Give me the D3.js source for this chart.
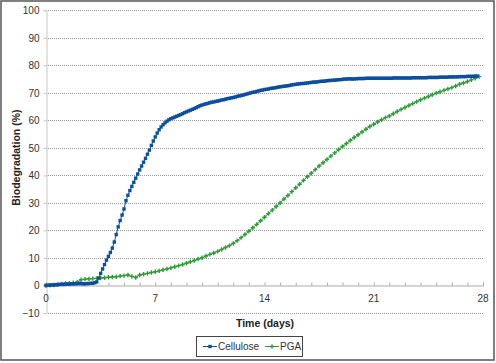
<!DOCTYPE html>
<html>
<head>
<meta charset="utf-8">
<script src="https://cdn.jsdelivr.net/npm/d3@7"></script>
<style>
  body { margin: 0; background: #fff; }
  svg { display: block; font-family: "Liberation Sans", Arial, sans-serif; }
</style>
</head>
<body>
<div class="chart"></div>
<script>
// Sampling interval of each series, in days.
const celluloseStep = 0.125;
const pgaStep = 0.25;

// Biodegradation (%).
const celluloseValues = [
    0.0, 0.1, 0.1, 0.2, 0.2, 0.3, 0.3, 0.4, 0.4,
    0.4, 0.5, 0.5, 0.5, 0.6, 0.6, 0.6, 0.7,
    0.7, 0.7, 0.6, 0.6, 0.7, 0.7, 0.8, 0.8,
    1.0, 1.3, 2.7, 4.4, 6.0, 7.6, 9.2, 10.6,
    12.0, 13.6, 15.8, 18.5, 21.3, 23.6, 25.6, 27.8,
    30.8, 32.8, 34.5, 36.0, 37.5, 39.0, 40.5, 42.0,
    43.4, 44.8, 46.2, 47.7, 49.2, 50.9, 52.5, 54.0,
    55.4, 56.6, 57.6, 58.4, 59.1, 59.7, 60.2, 60.6,
    60.9, 61.2, 61.5, 61.8, 62.1, 62.4, 62.8, 63.1,
    63.4, 63.7, 64.0, 64.3, 64.6, 65.0, 65.3, 65.6,
    65.8, 66.0, 66.2, 66.4, 66.6, 66.7, 66.9, 67.0,
    67.2, 67.4, 67.5, 67.7, 67.9, 68.0, 68.2, 68.3,
    68.5, 68.7, 68.9, 69.0, 69.2, 69.4, 69.6, 69.8,
    70.0, 70.2, 70.3, 70.5, 70.7, 70.9, 71.0, 71.2,
    71.3, 71.4, 71.6, 71.7, 71.8, 71.9, 72.1, 72.2,
    72.3, 72.4, 72.5, 72.6, 72.7, 72.9, 73.0, 73.1,
    73.2, 73.3, 73.4, 73.4, 73.5, 73.6, 73.7, 73.8,
    73.9, 73.9, 74.0, 74.1, 74.2, 74.2, 74.3, 74.4,
    74.5, 74.5, 74.6, 74.6, 74.7, 74.8, 74.8, 74.9,
    75.0, 75.0, 75.1, 75.1, 75.0, 75.1, 75.1, 75.2,
    75.2, 75.2, 75.2, 75.3, 75.3, 75.3, 75.3, 75.3,
    75.3, 75.3, 75.3, 75.3, 75.3, 75.3, 75.3, 75.3,
    75.3, 75.4, 75.4, 75.4, 75.4, 75.4, 75.4, 75.4,
    75.4, 75.4, 75.4, 75.5, 75.5, 75.5, 75.5, 75.5,
    75.5, 75.5, 75.5, 75.6, 75.6, 75.6, 75.6, 75.6,
    75.6, 75.7, 75.7, 75.7, 75.7, 75.7, 75.8, 75.8,
    75.8, 75.8, 75.8, 75.9, 75.9, 75.9, 75.9, 76.0,
    76.0, 76.0, 76.0, 76.1, 76.1
];

const pgaValues = [
    0.0, 0.1, 0.2, 0.4, 0.6,
    0.7, 0.8, 1.0, 1.2,
    2.1, 2.3, 2.4, 2.5,
    2.6, 2.7, 2.8, 3.0,
    3.1, 3.2, 3.4, 3.6,
    3.8, 3.3, 2.9, 3.8,
    4.1, 4.4, 4.7, 5.0,
    5.3, 5.7, 6.0, 6.4,
    6.8, 7.2, 7.6, 8.1,
    8.6, 9.1, 9.6, 10.1,
    10.7, 11.3, 11.8, 12.4,
    13.1, 13.8, 14.5, 15.3,
    16.3, 17.4, 18.5, 19.7,
    21.0, 22.2, 23.5, 24.8,
    26.1, 27.4, 28.7, 30.0,
    31.4, 32.7, 34.1, 35.5,
    36.8, 38.2, 39.5, 40.8,
    42.1, 43.4, 44.6, 45.8,
    47.0, 48.2, 49.4, 50.5,
    51.6, 52.7, 53.8, 54.8,
    55.8, 56.8, 57.8, 58.6,
    59.4, 60.2, 61.0, 61.6,
    62.4, 63.2, 64.0, 64.7,
    65.4, 66.1, 66.8, 67.5,
    68.1, 68.7, 69.3, 69.9,
    70.4, 70.9, 71.4, 71.9,
    72.5, 73.1, 73.6, 74.1,
    74.7, 75.3, 75.9
];

const xTicks = [0, 7, 14, 21, 28];
const yTicks = [-10, 0, 10, 20, 30, 40, 50, 60, 70, 80, 90, 100];
const seriesNames = ['Cellulose', 'PGA'];

const colors = {Cellulose: '#0b4f9e', PGA: '#2f9a3a'};

const width = 496;
const height = 363;
const plot = {left: 46, right: 483, top: 10.3, bottom: 313};

const svg = d3
    .select('.chart')
    .append('svg')
    .attr('width', width)
    .attr('height', height);

const xScale = d3.scaleLinear().domain([0, 28]).range([plot.left, plot.right]);
const yScale = d3.scaleLinear().domain([-10, 100]).range([plot.bottom, plot.top]);

const cellulose = celluloseValues.map((v, i) => ({x: i * celluloseStep, y: v}));
const pga = pgaValues.map((v, i) => ({x: i * pgaStep, y: v}));

// Outer frame
svg.append('rect')
    .attr('x', 1).attr('y', 1)
    .attr('width', width - 3).attr('height', height - 4)
    .attr('fill', '#fff')
    .attr('stroke', '#555')
    .attr('stroke-width', 1.5);

// Dotted gridlines
svg.append('g')
    .selectAll('line')
    .data(yTicks.filter(d => d !== 0))
    .enter()
    .append('line')
    .attr('x1', plot.left).attr('x2', plot.right + 1)
    .attr('y1', d => Math.round(yScale(d)) + 0.5)
    .attr('y2', d => Math.round(yScale(d)) + 0.5)
    .attr('stroke', '#9a9a9a')
    .attr('stroke-dasharray', '1,1');

// Y axis
const axisY = d3.axisLeft(yScale)
    .tickValues(yTicks)
    .tickSize(3)
    .tickPadding(4);

const gy = svg.append('g')
    .attr('transform', `translate(${plot.left + 0.5}, 0)`)
    .call(axisY);
gy.select('.domain').attr('stroke', '#c8c8c8');
gy.selectAll('.tick line').attr('stroke', '#c8c8c8');
gy.selectAll('text')
    .attr('fill', '#333')
    .style('font-size', '10px');

// X axis on the zero line, ticks every day pointing up
const axisX = d3.axisBottom(xScale)
    .tickValues(d3.range(0, 29))
    .tickSize(-3)
    .tickFormat('');

const gx = svg.append('g')
    .attr('transform', `translate(0, ${Math.round(yScale(0)) + 0.5})`)
    .call(axisX);
gx.select('.domain').attr('stroke', '#aaa');
gx.selectAll('.tick line').attr('stroke', '#aaa');

svg.append('g')
    .selectAll('text')
    .data(xTicks)
    .enter()
    .append('text')
    .attr('x', d => xScale(d))
    .attr('y', yScale(0) + 17)
    .attr('text-anchor', 'middle')
    .attr('fill', '#333')
    .style('font-size', '10px')
    .text(d => d);

// Axis titles
svg.append('text')
    .attr('x', 265)
    .attr('y', 327)
    .attr('text-anchor', 'middle')
    .attr('fill', '#222')
    .style('font-size', '10.5px')
    .style('font-weight', 'bold')
    .text('Time (days)');

svg.append('text')
    .attr('transform', `translate(20, ${(plot.top + plot.bottom) / 2 - 4}) rotate(-90)`)
    .attr('text-anchor', 'middle')
    .attr('fill', '#222')
    .style('font-size', '10.5px')
    .style('font-weight', 'bold')
    .text('Biodegradation (%)');

// Lines
const line = d3.line().x(d => xScale(d.x)).y(d => yScale(d.y));

function drawSeries(data, name, marker) {
    const g = svg.append('g');
    g.append('path')
        .datum(data)
        .attr('d', line)
        .attr('fill', 'none')
        .attr('stroke', colors[name])
        .attr('stroke-width', 1);
    g.selectAll('.pt')
        .data(data)
        .enter()
        .append('path')
        .attr('class', 'pt')
        .attr('transform', d => `translate(${xScale(d.x)}, ${yScale(d.y)})`)
        .attr('d', marker)
        .attr('fill', colors[name])
        .attr('stroke', colors[name])
        .attr('stroke-width', name === 'PGA' ? 1.4 : 0);
}

const squareMarker = 'M-1.7,-1.7h3.4v3.4h-3.4z';
const plusMarker = 'M-2.2,0h4.4M0,-2.2v4.4';

drawSeries(pga, 'PGA', plusMarker);
drawSeries(cellulose, 'Cellulose', squareMarker);

// Legend
const legend = svg.append('g');
legend.append('rect')
    .attr('x', 196.5).attr('y', 336.5)
    .attr('width', 106).attr('height', 20)
    .attr('fill', '#fff')
    .attr('stroke', '#444');

const legendItems = [
    {name: seriesNames[0], x: 203, marker: squareMarker},
    {name: seriesNames[1], x: 265, marker: plusMarker}
];

legendItems.forEach(item => {
    legend.append('line')
        .attr('x1', item.x).attr('x2', item.x + 14)
        .attr('y1', 346.5).attr('y2', 346.5)
        .attr('stroke', colors[item.name]);
    legend.append('path')
        .attr('transform', `translate(${item.x + 7}, 346.5)`)
        .attr('d', item.marker)
        .attr('fill', colors[item.name])
        .attr('stroke', colors[item.name])
        .attr('stroke-width', item.name === 'PGA' ? 1.3 : 0);
    legend.append('text')
        .attr('x', item.x + 15)
        .attr('y', 350)
        .attr('fill', '#333')
        .style('font-size', '10px')
        .text(item.name);
});
</script>
</body>
</html>
